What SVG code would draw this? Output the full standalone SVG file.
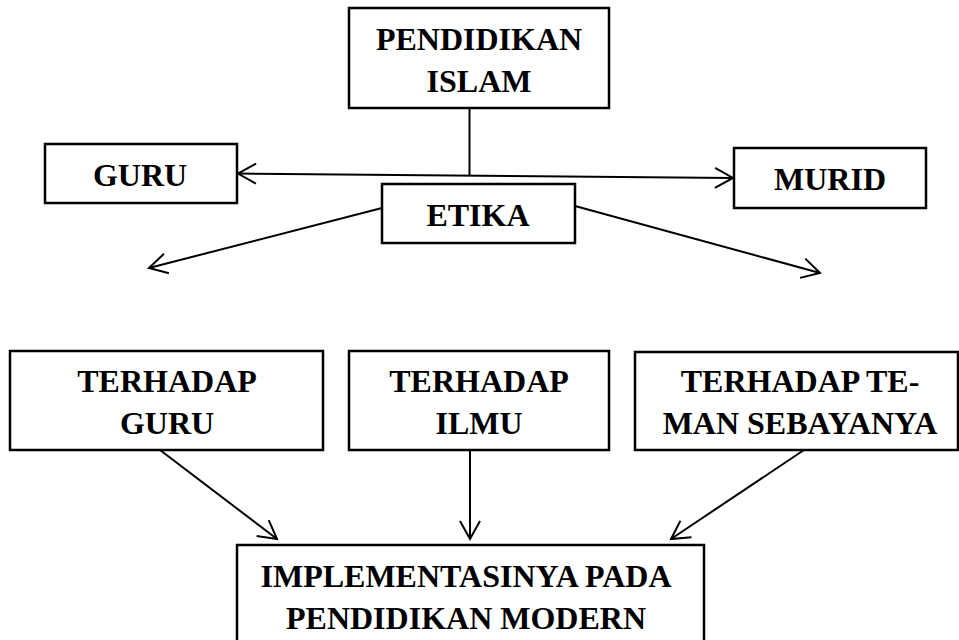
<svg xmlns="http://www.w3.org/2000/svg" width="959" height="640" viewBox="0 0 959 640">
<style>
.box{fill:#fff;stroke:#000;stroke-width:2.5}
.t{font-family:"Liberation Serif","Times New Roman",serif;font-weight:bold;font-size:32px;fill:#000;text-anchor:middle}
.c{stroke:#000;stroke-width:2;fill:none}
</style>
<defs>
<marker id="ah" markerUnits="userSpaceOnUse" viewBox="-20 -12 22 24" refX="0" refY="0" markerWidth="22" markerHeight="24" orient="auto-start-reverse" overflow="visible">
<path d="M-18,-10 L0,0 L-18,10" fill="none" stroke="#000" stroke-width="2"/>
</marker>
</defs>
<rect width="959" height="640" fill="#fff"/>
<g id="connectors">
<line class="c" x1="469.5" y1="108" x2="469.5" y2="175.5"/>
<line class="c" x1="238" y1="173.5" x2="733" y2="178" marker-start="url(#ah)" marker-end="url(#ah)"/>
<line class="c" x1="382" y1="208" x2="149" y2="268" marker-end="url(#ah)"/>
<line class="c" x1="575" y1="206" x2="820" y2="273" marker-end="url(#ah)"/>
<line class="c" x1="160" y1="450" x2="277" y2="539" marker-end="url(#ah)"/>
<line class="c" x1="470" y1="450" x2="470" y2="539" marker-end="url(#ah)"/>
<line class="c" x1="804" y1="450" x2="671" y2="539" marker-end="url(#ah)"/>
</g>
<g id="pendidikan-islam">
<rect class="box" x="349" y="8" width="260" height="100"/>
<text class="t" x="479" y="50">PENDIDIKAN</text>
<text class="t" x="479" y="92">ISLAM</text>
</g>
<g id="guru">
<rect class="box" x="45" y="144" width="192" height="59"/>
<text class="t" x="140" y="186">GURU</text>
</g>
<g id="murid">
<rect class="box" x="734" y="148" width="192" height="60"/>
<text class="t" x="830" y="190">MURID</text>
</g>
<g id="etika">
<rect class="box" x="382" y="184" width="193" height="59"/>
<text class="t" x="478" y="226">ETIKA</text>
</g>
<g id="terhadap-guru">
<rect class="box" x="10" y="351" width="313" height="99"/>
<text class="t" x="167" y="392">TERHADAP</text>
<text class="t" x="167" y="434">GURU</text>
</g>
<g id="terhadap-ilmu">
<rect class="box" x="349" y="351" width="260" height="99"/>
<text class="t" x="479" y="392">TERHADAP</text>
<text class="t" x="479" y="434">ILMU</text>
</g>
<g id="terhadap-teman">
<rect class="box" x="635" y="352" width="323" height="98"/>
<text class="t" x="800" y="392">TERHADAP TE-</text>
<text class="t" x="800" y="434">MAN SEBAYANYA</text>
</g>
<g id="implementasi">
<rect class="box" x="237" y="545" width="467" height="110"/>
<text class="t" x="466" y="587">IMPLEMENTASINYA PADA</text>
<text class="t" x="466" y="629">PENDIDIKAN MODERN</text>
</g>
</svg>
